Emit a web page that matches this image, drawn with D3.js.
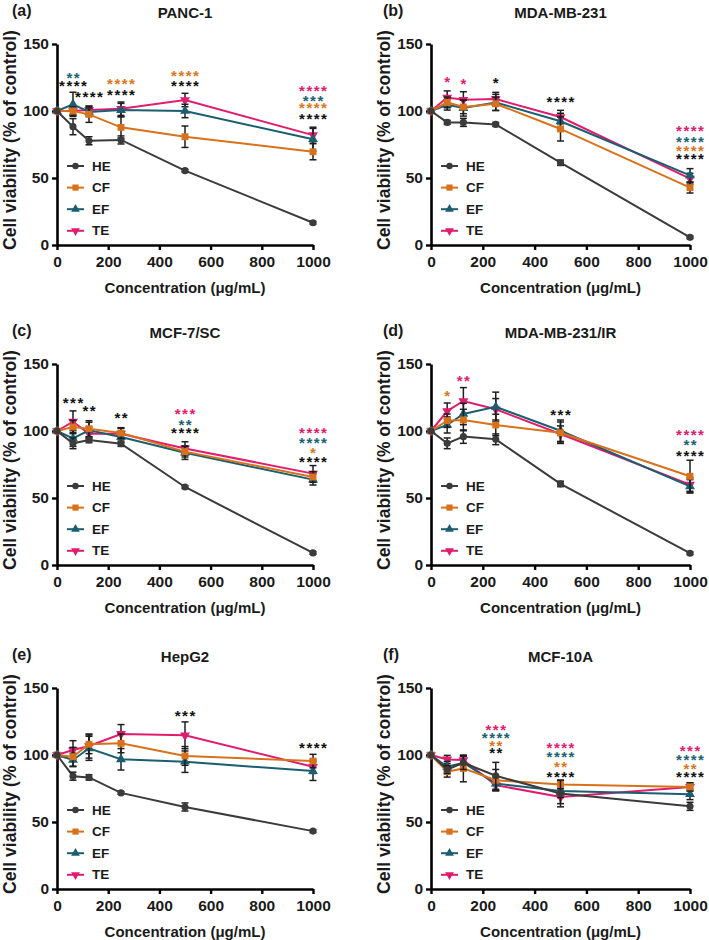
<!DOCTYPE html>
<html><head><meta charset="utf-8">
<script src="https://cdn.jsdelivr.net/npm/d3@7"></script>
<style>
body{margin:0;background:#fff}
text{font-family:"Liberation Sans",Arial,sans-serif;font-weight:bold;fill:#1a1a1a}
</style>
</head><body>
<svg id="chart" width="709" height="940"></svg>
<script>
// ---------- data ----------
const concentrations = [0, 62.5, 125, 250, 500, 1000];
const seriesNames = ["HE", "CF", "EF", "TE"];
const xTicks = [0, 200, 400, 600, 800, 1000];
const yTicks = [0, 50, 100, 150];
const panelLetters = ["(a)", "(b)", "(c)", "(d)", "(e)", "(f)"];
const panelTitles = ["PANC-1", "MDA-MB-231", "MCF-7/SC", "MDA-MB-231/IR", "HepG2", "MCF-10A"];
const xAxisTitle = "Concentration (\u03bcg/mL)";
const yAxisTitle = "Cell viability (% of control)";

// means: rows = HE, CF, EF, TE
const panc1Mean = [
  [100, 88.3, 77.8, 78.4, 55.5, 16.6],
  [100, 100, 97.5, 87.8, 80.8, 69.6],
  [100, 105, 99.3, 100.7, 100, 78.9],
  [100, 100, 100.7, 101.7, 108.2, 82]
];
const panc1Err = [
  [0, 6, 3, 3, 1, 1],
  [0, 3, 6, 8, 8, 6],
  [0, 9, 3, 5, 5, 9],
  [0, 3, 3, 5, 5, 5]
];
const mda231Mean = [
  [100, 91.5, 91.5, 90, 61.4, 5.7],
  [100, 106.4, 103, 105.4, 86.6, 42.8],
  [100, 104.7, 102.2, 106.4, 92.3, 52],
  [100, 110, 108.4, 108.9, 95.5, 49.5]
];
const mda231Err = [
  [0, 1.5, 3, 1.5, 2, 1],
  [0, 4, 5, 5, 9, 4],
  [0, 4, 6, 6, 6, 5],
  [0, 5, 6, 5, 5, 4]
];
const mcf7Mean = [
  [100, 90.8, 93.3, 90.5, 58.2, 9],
  [100, 103, 101.7, 98.5, 84.6, 65.7],
  [100, 94.5, 100.5, 95.5, 83.8, 63.7],
  [100, 107, 98, 98, 87, 68.2]
];
const mcf7Err = [
  [0, 4, 2, 2, 1, 1],
  [0, 5, 6, 4, 4, 4],
  [0, 6, 6, 4, 5, 4],
  [0, 8, 5, 4, 5, 6]
];
const mda231irMean = [
  [100, 90.8, 95.8, 93.8, 60.5, 8.8],
  [100, 107.7, 108.2, 104.5, 98.7, 66.2],
  [100, 104.5, 112.7, 118, 100.2, 58.7],
  [100, 114.9, 122.4, 116.2, 97.8, 60]
];
const mda231irErr = [
  [0, 4, 5, 4, 2, 1],
  [0, 5, 8, 8, 8, 12],
  [0, 6, 8, 11, 8, 5],
  [0, 6, 10, 8, 6, 5]
];
const hepg2Mean = [
  [100, 84.2, 83.3, 71.7, 61.2, 43.2],
  [100, 98.7, 108, 108.7, 99.3, 95.5],
  [100, 96.3, 105, 96.8, 95, 88],
  [100, 103.7, 106.7, 115.7, 114.7, 91.2]
];
const hepg2Err = [
  [0, 3, 2, 1, 3, 1],
  [0, 7, 7, 7, 7, 5],
  [0, 5, 9, 8, 8, 7],
  [0, 7, 9, 7, 10, 5]
];
const mcf10aMean = [
  [100, 89.2, 94.2, 84.5, 71.3, 61.7],
  [100, 87.5, 90, 81.2, 78, 76.2],
  [100, 91.2, 94.2, 78.7, 73.2, 70.7],
  [100, 96.7, 96.2, 77.5, 68.7, 76.2]
];
const mcf10aErr = [
  [0, 3, 5, 10, 10, 3],
  [0, 4, 10, 8, 3, 3],
  [0, 4, 5, 5, 5, 4],
  [0, 3, 3, 4, 5, 3]
];

// significance marks: [concentration, value level, series index, text]
const panc1Stars = [
  [62.5, 127.6, 2, "**"], [62.5, 121.6, 0, "****"],
  [125, 112.7, 0, "****"],
  [250, 122.4, 1, "****"], [250, 114.9, 0, "****"],
  [500, 128.4, 1, "****"], [500, 120.9, 0, "****"],
  [1000, 117.2, 3, "****"], [1000, 110.4, 2, "***"], [1000, 104.5, 1, "****"], [1000, 96.3, 0, "****"]
];
const mda231Stars = [
  [62.5, 124, 3, "*"], [125, 122.5, 3, "*"], [250, 123.2, 0, "*"],
  [500, 109.1, 0, "****"],
  [1000, 87.6, 3, "****"], [1000, 79.4, 2, "****"], [1000, 72.8, 1, "****"], [1000, 66.8, 0, "****"]
];
const mcf7Stars = [
  [62.5, 123.4, 0, "***"], [125, 117.4, 0, "**"], [250, 112.2, 0, "**"],
  [500, 115.2, 3, "***"], [500, 107, 2, "**"], [500, 101, 0, "****"],
  [1000, 101, 3, "****"], [1000, 93.5, 2, "****"], [1000, 86, 1, "*"], [1000, 79.3, 0, "****"]
];
const mda231irStars = [
  [62.5, 128.4, 1, "*"], [125, 139.6, 3, "**"],
  [500, 114.9, 0, "***"],
  [1000, 99.3, 3, "****"], [1000, 91.8, 2, "**"], [1000, 84.3, 0, "****"]
];
const hepg2Stars = [
  [500, 131.7, 0, "***"], [1000, 107.8, 0, "****"]
];
const mcf10aStars = [
  [250, 121.3, 3, "***"], [250, 115.3, 2, "****"], [250, 109.3, 1, "**"], [250, 104.1, 0, "**"],
  [500, 107.8, 3, "****"], [500, 101.1, 2, "****"], [500, 93.7, 1, "**"], [500, 86.2, 0, "****"],
  [1000, 105.6, 3, "***"], [1000, 98.9, 2, "****"], [1000, 92.2, 1, "**"], [1000, 86.2, 0, "****"]
];

const panelMeans = [panc1Mean, mda231Mean, mcf7Mean, mda231irMean, hepg2Mean, mcf10aMean];
const panelErrs = [panc1Err, mda231Err, mcf7Err, mda231irErr, hepg2Err, mcf10aErr];
const panelStars = [panc1Stars, mda231Stars, mcf7Stars, mda231irStars, hepg2Stars, mcf10aStars];

// ---------- style / layout ----------
const colors = ["#3b3b3b", "#d8711c", "#1b5e6f", "#e01c6e"];
const starColors = ["#111111", "#d8771e", "#1b6272", "#e01c6e"];
const symbols = [d3.symbolCircle, d3.symbolSquare, d3.symbolTriangle, d3.symbolTriangle];
const symSizes = [40, 48, 42, 42];
const symRot = [0, 0, 0, 180];
const colX = [57, 431];
const colW = [256, 259];
const rowTop = [44, 364, 688];
const plotH = 201;

const svg = d3.select("#chart");

panelTitles.forEach((title, p) => {
  const col = p % 2, row = Math.floor(p / 2);
  const x0 = colX[col], w = colW[col], top = rowTop[row];
  const x = d3.scaleLinear().domain([0, 1000]).range([x0, x0 + w]);
  const y = d3.scaleLinear().domain([0, 150]).range([top + plotH, top]);
  const g = svg.append("g");

  // axes
  const ya = g.append("g").attr("transform", `translate(${x0},0)`)
    .call(d3.axisLeft(y).tickValues(yTicks).tickFormat(d3.format("d"))
      .tickSize(5).tickSizeOuter(0).tickPadding(3));
  const xa = g.append("g").attr("transform", `translate(0,${top + plotH})`)
    .call(d3.axisBottom(x).tickValues(xTicks).tickFormat(d3.format("d"))
      .tickSize(5).tickSizeOuter(0).tickPadding(6));
  [ya, xa].forEach(a => {
    a.select(".domain").attr("stroke", "#000").attr("stroke-width", 2.6);
    a.selectAll(".tick line").attr("stroke", "#000").attr("stroke-width", 2.4);
    a.selectAll(".tick text").attr("font-size", 15.5).attr("font-weight", "bold")
      .attr("font-family", '"Liberation Sans", Arial, sans-serif').attr("fill", "#1a1a1a");
  });

  // titles
  g.append("text").attr("x", col ? 383 : 12).attr("y", rowTop[row] - 28)
    .attr("font-size", 16).text(panelLetters[p]);
  g.append("text").attr("x", x0 + w / 2).attr("y", rowTop[row] - 26)
    .attr("text-anchor", "middle").attr("font-size", 15).text(title);
  g.append("text").attr("x", x0 + w / 2).attr("y", top + plotH + 48)
    .attr("text-anchor", "middle").attr("font-size", 15).text(xAxisTitle);
  g.append("text")
    .attr("transform", `translate(${col ? 384 : 10},${top + 96}) rotate(-90)`)
    .attr("text-anchor", "middle").attr("dominant-baseline", "central")
    .attr("font-size", 17.5).text(yAxisTitle);

  // series (drawn TE, EF, CF, HE so HE ends on top)
  const means = panelMeans[p], errs = panelErrs[p];
  const line = d3.line().x(d => x(d[0])).y(d => y(d[1]));
  [3, 2, 1, 0].forEach(s => {
    const pts = concentrations.map((c, i) => [c, means[s][i], errs[s][i]]);
    const sg = g.append("g");
    sg.append("path").datum(pts).attr("d", line).attr("fill", "none")
      .attr("stroke", colors[s]).attr("stroke-width", 2);
    const eb = sg.selectAll(".eb").data(pts.filter(d => d[2] > 0)).enter().append("g");
    eb.append("line").attr("x1", d => x(d[0])).attr("x2", d => x(d[0]))
      .attr("y1", d => y(d[1] - d[2])).attr("y2", d => y(d[1] + d[2]))
      .attr("stroke", "#1e1e1e").attr("stroke-width", 1.5);
    [-1, 1].forEach(sign => {
      eb.append("line").attr("x1", d => x(d[0]) - 3.5).attr("x2", d => x(d[0]) + 3.5)
        .attr("y1", d => y(d[1] + sign * d[2])).attr("y2", d => y(d[1] + sign * d[2]))
        .attr("stroke", "#1e1e1e").attr("stroke-width", 1.5);
    });
    sg.selectAll(".mk").data(pts).enter().append("path")
      .attr("d", d3.symbol().type(symbols[s]).size(symSizes[s]))
      .attr("transform", d => `translate(${x(d[0])},${y(d[1])}) rotate(${symRot[s]})`)
      .attr("fill", colors[s]);
  });

  // legend
  seriesNames.forEach((name, s) => {
    const ly = top + 122 + s * 21.6;
    g.append("line").attr("x1", x0 + 10).attr("x2", x0 + 27).attr("y1", ly).attr("y2", ly)
      .attr("stroke", colors[s]).attr("stroke-width", 2);
    g.append("path").attr("d", d3.symbol().type(symbols[s]).size(symSizes[s] * 0.8))
      .attr("transform", `translate(${x0 + 18.5},${ly}) rotate(${symRot[s]})`)
      .attr("fill", colors[s]);
    g.append("text").attr("x", x0 + 35).attr("y", ly).attr("dominant-baseline", "central")
      .attr("font-size", 13.5).text(name);
  });

  // significance stars
  panelStars[p].forEach(([c, v, s, txt]) => {
    g.append("text").attr("x", x(c) + 0.75).attr("y", y(v) + 8.5)
      .attr("text-anchor", "middle").attr("font-size", 15).attr("letter-spacing", 1.5)
      .style("fill", starColors[s]).text(txt);
  });
});
</script>
</body></html>
